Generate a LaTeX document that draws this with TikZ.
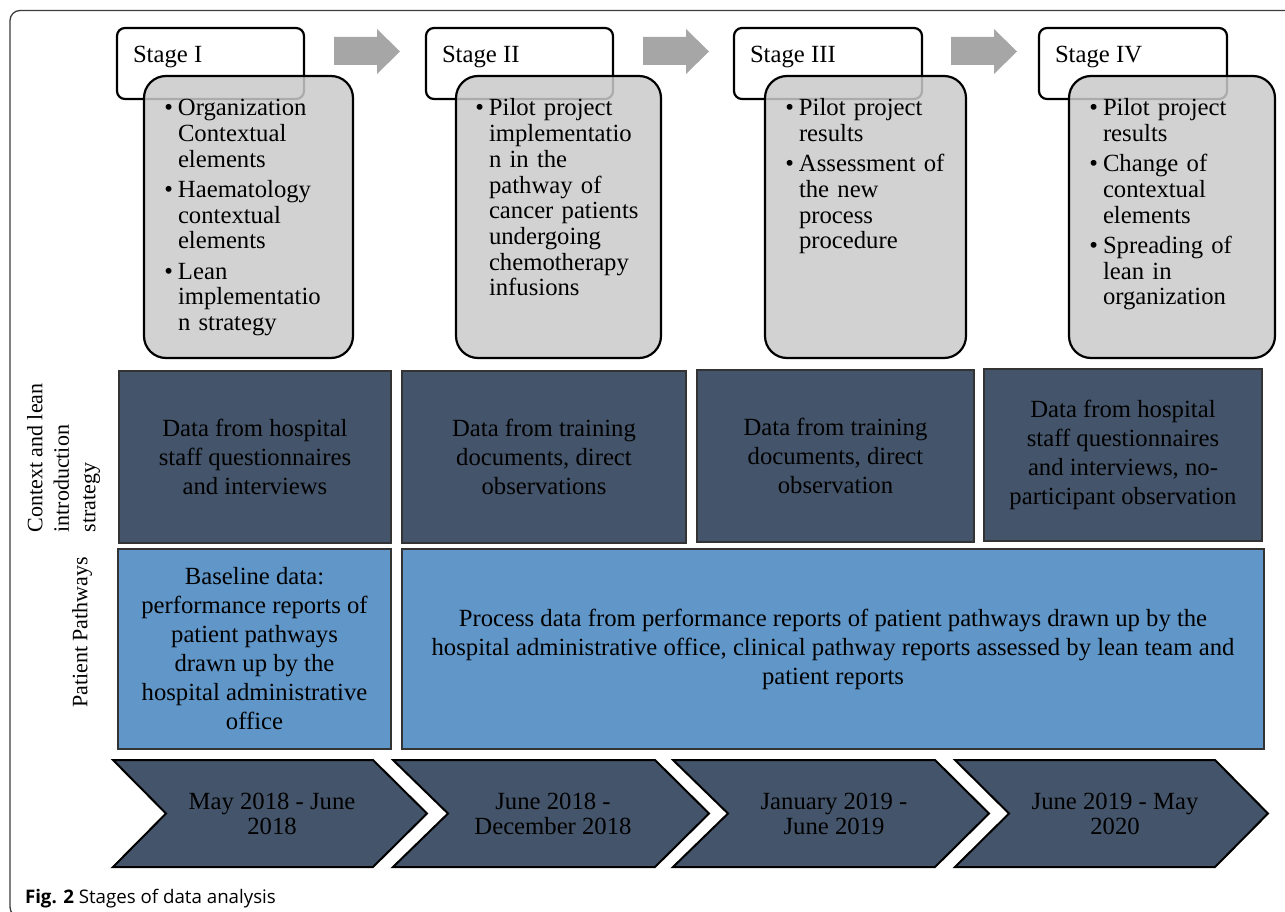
\documentclass[tikz,border=0pt]{standalone}
\usepackage{fontspec}
\setmainfont{Liberation Serif}
\newfontfamily\capfont{Open Sans}
\definecolor{darkfill}{HTML}{44546A}
\definecolor{lightfill}{HTML}{6096C8}
\definecolor{grayfill}{HTML}{CACACA}
\definecolor{arrowfill}{HTML}{A6A6A6}
\definecolor{framecol}{HTML}{3C3C3C}
\newcommand{\bfirst}{\noindent\llap{\textbullet\hspace{5pt}}}
\newcommand{\bnext}{\par\vspace{4.5pt}\noindent\llap{\textbullet\hspace{5pt}}}
\begin{document}
\begin{tikzpicture}[x=1pt,y=-1pt,
  every node/.style={inner sep=0pt, outer sep=0pt},
  bigtxt/.style={font=\fontsize{24.7}{29}\selectfont, align=center},
  darkbox/.style={rectangle, draw=black!80, line width=1.3pt, fill=darkfill, bigtxt},
  lightbox/.style={rectangle, draw=black!80, line width=1.3pt, fill=lightfill, bigtxt},
  titlebox/.style={rectangle, rounded corners=8pt, draw=black, line width=2.2pt, fill=white},
  bulletbox/.style={rectangle, rounded corners=22pt, draw=black, line width=2.2pt, fill=grayfill, fill opacity=0.85, draw opacity=1},
  titletxt/.style={font=\fontsize{24.7}{29}\selectfont, anchor=base west},
  bullettxt/.style={font=\fontsize{24.7}{25.7}\selectfont, text width=185pt, align=left, anchor=base west},
  blockarrow/.style={fill=arrowfill, draw=none},
  chevron/.style={fill=darkfill, draw=black, line width=2pt, line join=miter},
  chevtxt/.style={font=\fontsize{24.7}{25}\selectfont, align=center},
  sidetxt/.style={font=\fontsize{22}{26.5}\selectfont, rotate=90, align=left},
  captxt/.style={font=\capfont\fontsize{18.7}{22}\selectfont, anchor=base west}
]
\path[use as bounding box] (0,0) rectangle (1285,912);

% outer frame
\begin{scope}
  \clip (0,0) rectangle (1285,912);
  \draw[framecol, line width=1.3pt, rounded corners=10pt] (1300,10.5) -- (10,10.5) -- (10,917) -- (60,917);
\end{scope}

% block arrows between stages
\foreach \dx in {0,309,617}{
  \fill[blockarrow, xshift=\dx] (334,37) -- (377,37) -- (377,29) -- (400,51.5) -- (377,74) -- (377,65) -- (334,65) -- cycle;
}

% stage title boxes
\node[titlebox, minimum width=187pt, minimum height=71pt] (w1) at (210.5,63.5) {};
\node[titlebox, minimum width=187pt, minimum height=71pt] (w2) at (519.5,63.5) {};
\node[titlebox, minimum width=188pt, minimum height=71pt] (w3) at (828,63.5) {};
\node[titlebox, minimum width=188pt, minimum height=71pt] (w4) at (1133,63.5) {};
\node[titletxt] (t1) at (133,63) {Stage I};
\node[titletxt] (t2) at (442,63) {Stage II};
\node[titletxt] (t3) at (750,63) {Stage III};
\node[titletxt] (t4) at (1055,63) {Stage IV};

% bullet boxes
\node[bulletbox, minimum width=209pt, minimum height=282pt] (g1) at (248.5,217) {};
\node[bulletbox, minimum width=205pt, minimum height=282pt] (g2) at (558.5,217) {};
\node[bulletbox, minimum width=201pt, minimum height=282pt] (g3) at (865.5,217) {};
\node[bulletbox, minimum width=206pt, minimum height=282pt] (g4) at (1172,217) {};

\node[bullettxt] (b1) at (178,116) {\bfirst Organization\\Contextual\\elements\bnext Haematology\\contextual\\elements\bnext Lean\\implementatio\\n strategy};
\node[bullettxt] (b2) at (489,116) {\bfirst Pilot project\\implementatio\\n in the\\pathway of\\cancer patients\\undergoing\\chemotherapy\\infusions};
\node[bullettxt] (b3) at (799,116) {\bfirst Pilot project\\results\bnext Assessment of\\the new\\process\\procedure};
\node[bullettxt] (b4) at (1103,116) {\bfirst Pilot project\\results\bnext Change of\\contextual\\elements\bnext Spreading of\\lean in\\organization};

% side labels
\node[sidetxt] (ctx) at (63.5,458) {Context and lean\\introduction\\strategy};
\node[sidetxt] (pp) at (82,632.5) {Patient Pathways};

% context row
\node[darkbox, minimum width=272pt, minimum height=172pt] (d1) at (255,457) {Data from hospital\\staff questionnaires\\and interviews};
\node[darkbox, minimum width=284pt, minimum height=172pt] (d2) at (544,457) {Data from training\\documents, direct\\observations};
\node[darkbox, minimum width=277pt, minimum height=172pt] (d3) at (835.5,456) {Data from training\\documents, direct\\observation};
\node[darkbox, minimum width=278pt, minimum height=172pt] (d4) at (1123,455) {Data from hospital\\staff questionnaires\\and interviews, no-\\participant observation};

% patient pathway row
\node[lightbox, minimum width=273pt, minimum height=200pt] (l1) at (254.5,649) {Baseline data:\\performance reports of\\patient pathways\\drawn up by the\\hospital administrative\\office};
\node[lightbox, minimum width=862pt, minimum height=200pt] (l2) at (833,649) {Process data from performance reports of patient pathways drawn up by the\\hospital administrative office, clinical pathway reports assessed by lean team and\\patient reports};

% time chevrons
\draw[chevron] (113,760) -- (373,760) -- (427,813.5) -- (373,867) -- (113,867) -- (166,813.5) -- cycle;
\draw[chevron] (393,760) -- (655,760) -- (709,813.5) -- (655,867) -- (393,867) -- (448,813.5) -- cycle;
\draw[chevron] (673,760) -- (935,760) -- (989,813.5) -- (935,867) -- (673,867) -- (728,813.5) -- cycle;
\draw[chevron] (955,760) -- (1215,760) -- (1268,813.5) -- (1215,867) -- (955,867) -- (1009,813.5) -- cycle;
\node[chevtxt] (c1) at (272,813.5) {May 2018 - June\\2018};
\node[chevtxt] (c2) at (553,813.5) {June 2018 -\\December 2018};
\node[chevtxt] (c3) at (834,813.5) {January 2019 -\\June 2019};
\node[chevtxt] (c4) at (1115,813.5) {June 2019 - May\\2020};

% caption
\node[captxt] (cap) at (25,903) {\textbf{Fig. 2} Stages of data analysis};
\end{tikzpicture}
\end{document}
